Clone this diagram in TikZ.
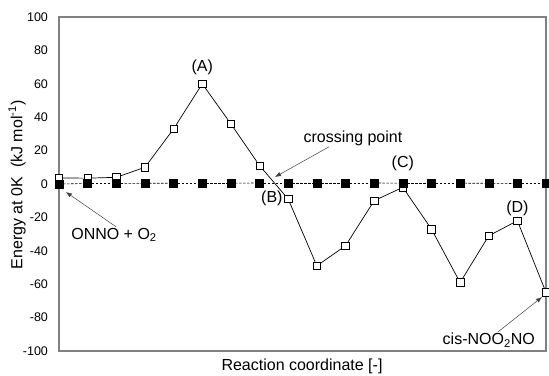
\documentclass[tikz,border=0pt]{standalone}
\usepackage{fontspec}
\setmainfont{Liberation Sans}
\usetikzlibrary{positioning}
\usetikzlibrary{arrows.meta}

\begin{document}
\begin{tikzpicture}[x=1pt, y=1pt]

    % page size of the reference, in pixels
    \useasboundingbox (0,0) rectangle (549,375);

    \tikzset{
        openpt/.style={draw, fill=white, inner sep=0pt,
            minimum size=7.5pt, line width=0.6pt},
        filledpt/.style={draw, fill=black, inner sep=0pt,
            minimum size=8pt},
        tag/.style={font=\fontsize{16}{18}\selectfont, inner sep=1pt},
        ticklab/.style={font=\fontsize{12.5}{14}\selectfont,
            anchor=east, inner sep=0pt},
        pointer/.style={draw=black!75, line width=0.5pt,
            -{Latex[length=6pt,width=4.5pt]}},
    }

    % Scope in data units: one step per structure, energy in kJ/mol
    \begin{scope}[shift={(59,191)}, x=28.65pt, y=1.67pt]

        \draw[black!50, line width=1.4pt] (0,-100) rectangle (17,100);

        \foreach \e in {-100,-80,...,100}
            \node[ticklab] (t\e) at (-0.38,\e) {\e};

        % singlet path (open squares)
        \foreach \e [count=\i from 0] in
            {3.6,3.5,4,10,33,60,36,11,-9,-49,-37,-10,-2,-27,-59,-31,-22,-65}
            \node[openpt] (o\i) at (\i,\e) {};
        \foreach \i [remember=\i as \k (initially 0)] in {1,...,17}
            \draw[line width=0.7pt] (o\k) -- (o\i);

        % triplet reference (filled squares)
        \foreach \e [count=\i from 0] in
            {0,0.3,0.3,0.4,0.5,0.5,0.5,0.6,0.6,0.6,0.6,0.6,0.5,0.5,0.5,0.4,0.3,0.3}
            \node[filledpt] (f\i) at (\i,\e) {};
        \foreach \i [remember=\i as \k (initially 0)] in {1,...,17}
            \draw[dash pattern=on 2.5pt off 1.5pt, line width=0.6pt]
                (f\k) -- (f\i);

        \node[tag] (A) at (5,70) {(A)};
        \node[tag] (B) at (7.43,-8.4) {(B)};
        \node[tag] (C) at (12,12.6) {(C)};
        \node[tag] (D) at (16,-14.4) {(D)};

        \node[tag] (cross) at (10.26,27.5) {crossing point};
        \coordinate (crosstip) at (7.54,4.2);
        \draw[pointer] (cross.200) -- (crosstip);

        \node[tag] (onno) at (1.92,-30.5) {ONNO + O\textsubscript{2}};
        \coordinate (onnotip) at (0.24,-4.8);
        \draw[pointer] (onno.75) -- (onnotip);

        \node[tag] (cis) at (15.0,-93.4) {cis-NOO\textsubscript{2}NO};
        \coordinate (cistip) at (16.86,-67.7);
        \draw[pointer] (cis.41) -- (cistip);
    \end{scope}

    \node[tag, rotate=90] (ylab) at (17,190)
        {Energy at 0K~~(kJ mol\textsuperscript{-1})};
    \node[tag] (xlab) at (302,9) {Reaction coordinate [-]};

\end{tikzpicture}
\end{document}
